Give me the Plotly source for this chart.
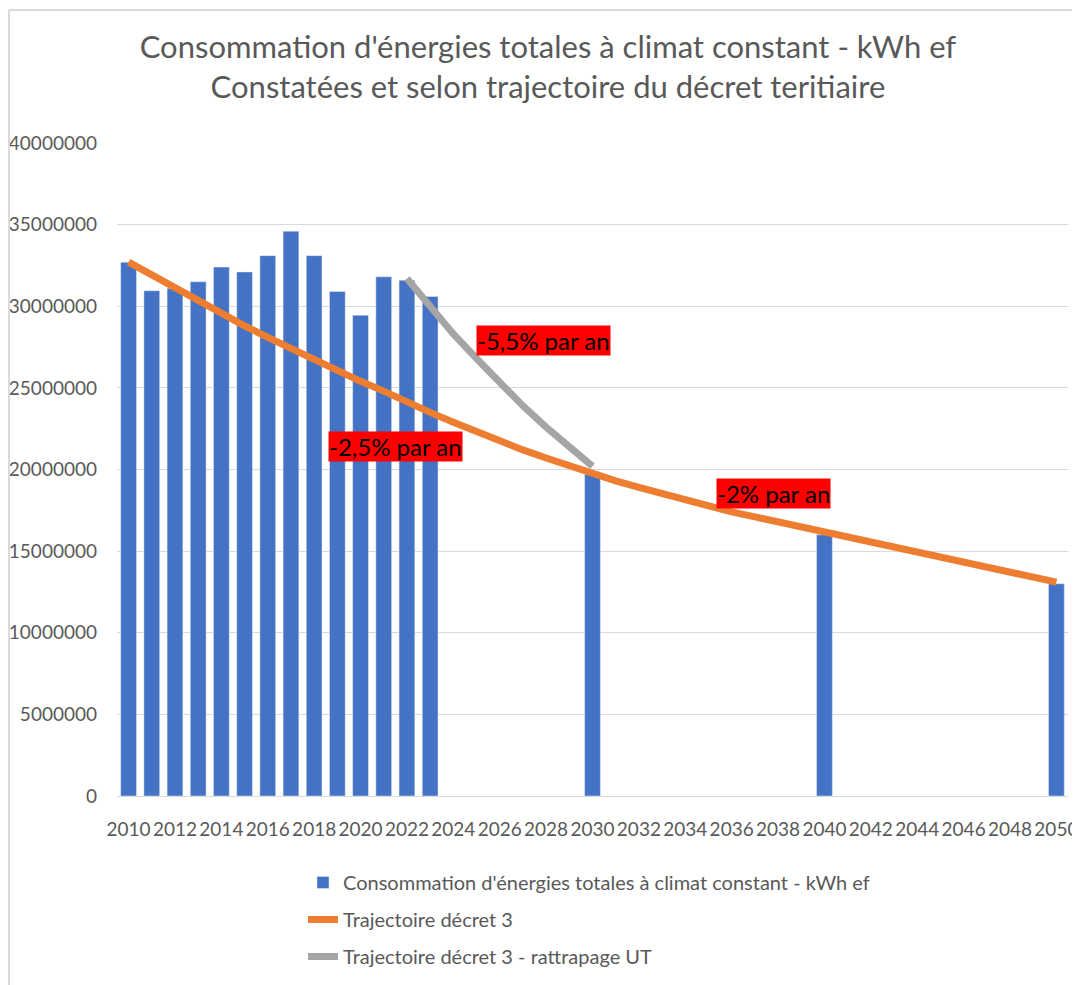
import plotly.graph_objects as go

years = [str(y) for y in range(2010, 2051)]

# consommation constatée (kWh ef)
conso_years = ["2010", "2011", "2012", "2013", "2014", "2015", "2016", "2017",
               "2018", "2019", "2020", "2021", "2022", "2023", "2030", "2040", "2050"]
conso_values = [32700000, 30950000, 31100000, 31500000, 32400000, 32100000, 33100000, 34600000,
                33100000, 30900000, 29450000, 31800000, 31600000, 30600000, 19700000, 16000000, 13000000]

# trajectoire décret 3 (2010 -> 2050)
traj_values = [32700000, 31900000, 31100000, 30300000, 29600000, 28800000, 28100000, 27400000,
               26700000, 26000000, 25400000, 24800000, 24100000, 23500000, 22900000, 22300000,
               21800000, 21200000, 20700000, 20200000, 19700000, 19300000, 18900000, 18500000,
               18200000, 17800000, 17400000, 17100000, 16800000, 16400000, 16100000, 15800000,
               15500000, 15200000, 14900000, 14600000, 14300000, 14000000, 13700000, 13400000,
               13100000]

# trajectoire décret 3 - rattrapage UT (2022 -> 2030)
ratt_years = ["2022", "2023", "2024", "2025", "2026", "2027", "2028", "2029", "2030"]
ratt_values = [31700000, 30000000, 28300000, 26800000, 25300000, 23900000, 22600000, 21400000, 20200000]

y_ticks = [0, 5000000, 10000000, 15000000, 20000000, 25000000, 30000000, 35000000, 40000000]

FONT = "Lato, 'Open Sans', sans-serif"
GREY_TXT = "#595959"

fig = go.Figure()
fig.add_trace(go.Bar(
    x=conso_years, y=conso_values,
    name="Consommation d'énergies totales à climat constant - kWh ef",
    marker=dict(color="#4472C4"),
    legendgroup="a",
))
fig.add_trace(go.Scatter(
    x=years, y=traj_values, mode="lines",
    name="Trajectoire décret 3",
    line=dict(color="#ED7D31", width=7),
    legendgroup="b",
))
fig.add_trace(go.Scatter(
    x=ratt_years, y=ratt_values, mode="lines",
    name="Trajectoire décret 3 - rattrapage UT",
    line=dict(color="#A5A5A5", width=7),
    legendgroup="c",
))

label_style = dict(
    showarrow=False, bgcolor="#FF0000",
    font=dict(family=FONT, size=24, color="black"),
    borderpad=0, xref="x", yref="y",
)
fig.add_annotation(x=17.9, y=27900000, text="-5,5% par an", **label_style)
fig.add_annotation(x=11.5, y=21400000, text="-2,5% par an", **label_style)
fig.add_annotation(x=27.8, y=18550000, text="-2% par an", **label_style)

# bordure du cadre du graphique (haut et gauche)
fig.add_shape(type="line", xref="paper", yref="paper", x0=-0.1135, x1=1.02, y0=1.2035, y1=1.2035,
              line=dict(color="#D9D9D9", width=2))
fig.add_shape(type="line", xref="paper", yref="paper", x0=-0.1135, x1=-0.1135, y0=1.2035, y1=-0.3,
              line=dict(color="#D9D9D9", width=2))

fig.update_xaxes(
    type="category", categoryorder="array", categoryarray=years,
    range=[-0.5, 40.5], automargin=False,
    tickmode="array", tickvals=years[::2], ticktext=years[::2],
    tickfont=dict(family=FONT, size=19, color=GREY_TXT),
    ticklabelstandoff=16,
    showgrid=False, showline=True, linecolor="#D9D9D9", linewidth=1,
    ticks="",
)
fig.update_yaxes(
    range=[0, 40000000], automargin=False,
    tickmode="array", tickvals=y_ticks, ticktext=[str(v) for v in y_ticks],
    tickfont=dict(family=FONT, size=19, color=GREY_TXT),
    ticklabelstandoff=19,
    showgrid=True, gridcolor="#D9D9D9", gridwidth=1,
    zeroline=False, ticks="",
)

fig.update_layout(
    width=1072, height=981,
    paper_bgcolor="white", plot_bgcolor="white",
    margin=dict(l=109, r=12, t=135, b=193),
    bargap=0.32,
    title=dict(
        text="Consommation d'énergies totales à climat constant - kWh ef<br>"
             "Constatées et selon trajectoire du décret teritiaire",
        x=0.5037, xanchor="center", y=0.949, yanchor="middle", yref="container",
        font=dict(family=FONT, size=31, color=GREY_TXT),
    ),
    legend=dict(
        x=0.1956, y=-0.1026, xanchor="left", yanchor="top",
        orientation="v", tracegroupgap=8,
        font=dict(family=FONT, size=20, color=GREY_TXT),
    ),
    showlegend=True,
)

fig.write_html("out.html")
